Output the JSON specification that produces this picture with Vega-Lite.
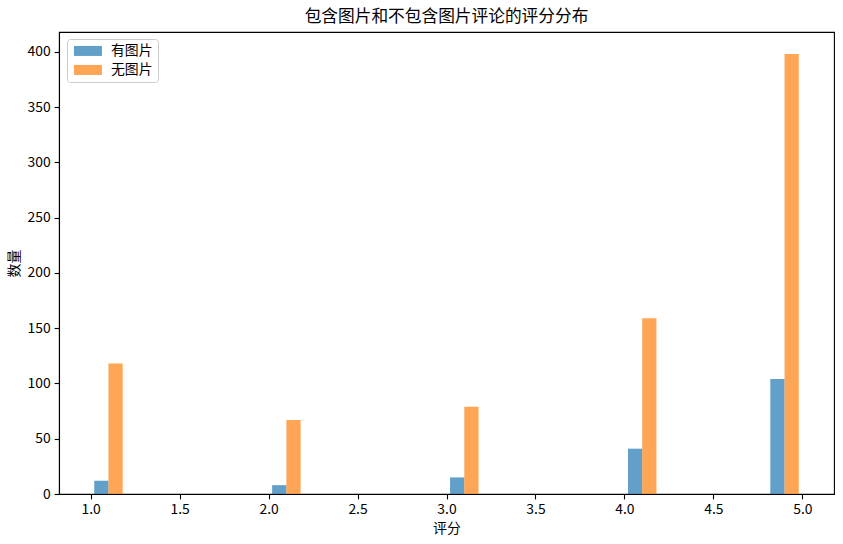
{
  "$schema": "https://vega.github.io/schema/vega-lite/v6.json",
  "width": 775,
  "height": 462,
  "autosize": {"type": "none"},
  "padding": {"left": 59, "top": 32, "right": 9, "bottom": 50},
  "background": "white",
  "title": {
    "text": "包含图片和不包含图片评论的评分分布",
    "font": "Noto Sans CJK SC",
    "fontSize": 16.7,
    "fontWeight": "normal",
    "color": "black",
    "offset": 6
  },
  "data": {
    "values": [
      {"series": "有图片", "bin_start": 1.0, "bin_end": 1.2, "count": 12},
      {"series": "有图片", "bin_start": 2.0, "bin_end": 2.2, "count": 8},
      {"series": "有图片", "bin_start": 3.0, "bin_end": 3.2, "count": 15},
      {"series": "有图片", "bin_start": 4.0, "bin_end": 4.2, "count": 41},
      {"series": "有图片", "bin_start": 4.8, "bin_end": 5.0, "count": 104},
      {"series": "无图片", "bin_start": 1.0, "bin_end": 1.2, "count": 118},
      {"series": "无图片", "bin_start": 2.0, "bin_end": 2.2, "count": 67},
      {"series": "无图片", "bin_start": 3.0, "bin_end": 3.2, "count": 79},
      {"series": "无图片", "bin_start": 4.0, "bin_end": 4.2, "count": 159},
      {"series": "无图片", "bin_start": 4.8, "bin_end": 5.0, "count": 398}
    ]
  },
  "encoding": {
    "x": {
      "field": "bin_start",
      "type": "quantitative",
      "title": "评分",
      "scale": {"domain": [0.822, 5.178], "nice": false, "zero": false},
      "axis": {"values": [1.0, 1.5, 2.0, 2.5, 3.0, 3.5, 4.0, 4.5, 5.0], "format": ".1f"}
    },
    "x2": {"field": "bin_end"},
    "y": {
      "field": "count",
      "type": "quantitative",
      "title": "数量",
      "scale": {"domain": [0, 417.9], "nice": false},
      "axis": {"values": [0, 50, 100, 150, 200, 250, 300, 350, 400]}
    },
    "y2": {"datum": 0},
    "color": {
      "field": "series",
      "type": "nominal",
      "title": null,
      "scale": {"domain": ["有图片", "无图片"], "range": ["#1f77b4", "#ff7f0e"]},
      "legend": {
        "orient": "none",
        "legendX": 8,
        "legendY": 7,
        "fillColor": "white",
        "strokeColor": "#cccccc",
        "cornerRadius": 3,
        "padding": 5,
        "rowPadding": 4,
        "symbolType": "M-2.8,-1H2.8V1H-2.8Z",
        "symbolSize": 100,
        "symbolOffset": 9,
        "symbolOpacity": 0.7,
        "symbolStrokeWidth": 0,
        "labelOffset": 16,
        "labelFont": "Noto Sans CJK SC",
        "labelFontSize": 13.9,
        "labelColor": "black"
      }
    }
  },
  "layer": [
    {
      "transform": [{"filter": "datum.series === '有图片'"}],
      "mark": {"type": "bar", "opacity": 0.7, "xOffset": 3.56, "x2Offset": -17.79}
    },
    {
      "transform": [{"filter": "datum.series === '无图片'"}],
      "mark": {"type": "bar", "opacity": 0.7, "xOffset": 17.79, "x2Offset": -3.56}
    }
  ],
  "config": {
    "view": {"stroke": "black", "strokeWidth": 1.1},
    "axis": {
      "grid": false,
      "domainColor": "black",
      "domainWidth": 1.1,
      "tickColor": "black",
      "tickWidth": 1.1,
      "tickSize": 4.9,
      "labelFont": "Noto Sans CJK SC",
      "labelFontSize": 13.9,
      "labelColor": "black",
      "labelPadding": 4,
      "titleFont": "Noto Sans CJK SC",
      "titleFontSize": 13.9,
      "titleFontWeight": "normal",
      "titleColor": "black",
      "titlePadding": 5
    }
  }
}
